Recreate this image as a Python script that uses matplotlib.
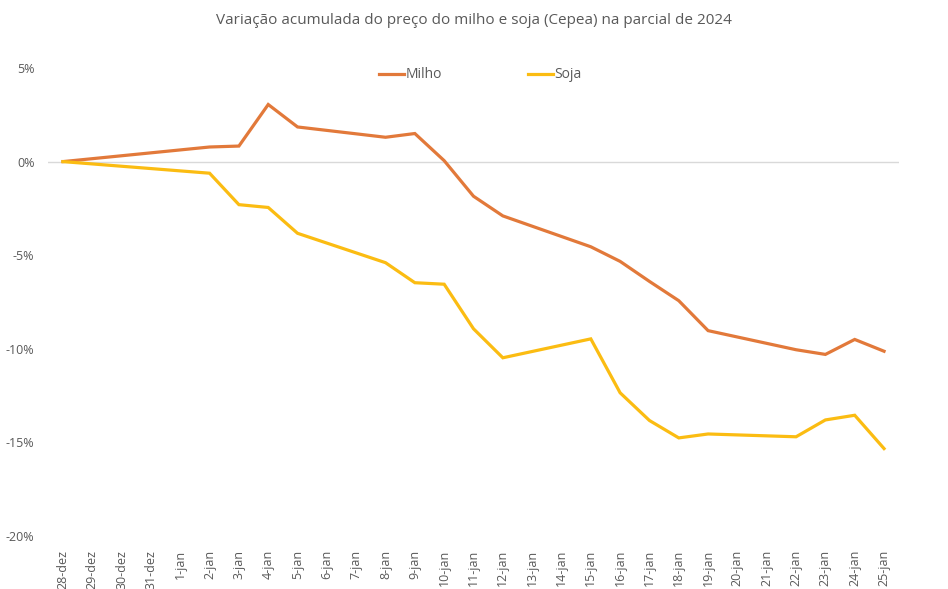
import numpy as np
import matplotlib
matplotlib.use("Agg")
import matplotlib.pyplot as plt

categories = ["28-dez", "29-dez", "30-dez", "31-dez"] + [f"{d}-jan" for d in range(1, 26)]
nan = np.nan
milho = [0.0, nan, nan, nan, nan, 0.78, 0.83, 3.05, 1.85, nan, nan, 1.30, 1.50, 0.05,
         -1.85, -2.90, nan, nan, -4.55, -5.33, -6.40, -7.43, -9.03, nan, nan, -10.05,
         -10.30, -9.50, -10.13]
soja = [0.0, nan, nan, nan, nan, -0.62, -2.30, -2.45, -3.83, nan, nan, -5.40, -6.47, -6.55,
        -8.93, -10.48, nan, nan, -9.47, -12.35, -13.83, -14.76, -14.55, nan, nan, -14.70,
        -13.80, -13.55, -15.33]
yticks = [5, 0, -5, -10, -15, -20]
title = "Variação acumulada do preço do milho e soja (Cepea) na parcial de 2024"

plt.rcParams['font.family'] = ['Open Sans', 'DejaVu Sans']
fig = plt.figure(figsize=(9.48, 5.89), dpi=100)
ax = fig.add_axes([48.3/948, 1-536/589, (898.7-48.3)/948, (536-68)/589])

x = np.arange(len(categories))
for vals, color, label in [(milho, '#E2793A', 'Milho'), (soja, '#FBBC12', 'Soja')]:
    v = np.array(vals, dtype=float)
    m = ~np.isnan(v)
    ax.plot(x[m], v[m], color=color, lw=2.3, label=label, solid_joinstyle='miter')

ax.set_xlim(-0.5, len(categories)-0.5)
ax.set_ylim(-20, 5)
ax.axhline(0, color='#D9D9D9', lw=1, zorder=0)
for s in ax.spines.values():
    s.set_visible(False)
ax.set_yticks(yticks)
ax.set_yticklabels([f"{t}%" for t in yticks], fontsize=9, color='#595959')
ax.set_xticks(x)
ax.set_xticklabels(categories, rotation=90, fontsize=9, color='#595959')
ax.tick_params(axis='both', length=0)
ax.tick_params(axis='x', pad=10)
ax.tick_params(axis='y', pad=10)

fig.text(0.5, 1-20.5/589, title, ha='center', va='center', fontsize=11.0, color='#595959')
leg = ax.legend(loc='upper center', bbox_to_anchor=(0.508, 1.028), ncol=2, frameon=False,
                fontsize=10, columnspacing=6.2, handlelength=1.8, handletextpad=0.1)
for t in leg.get_texts():
    t.set_color('#595959')

fig.savefig("out.png", dpi=100)
